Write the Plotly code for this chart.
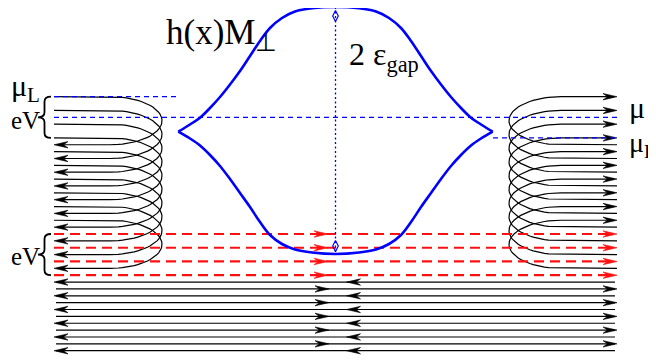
import numpy as np
import plotly.graph_objects as go

# ---------------- data ----------------
# energy levels: index k, levels drawn top->bottom
LEVEL_TOP = 96.7          # page y of level 0
LEVEL_STEP = 6.865        # spacing between neighbouring levels
left_curl_starts = [0, 2, 4, 6, 8, 10, 12, 14, 16, 18]     # right-movers reflected on the left
right_curl_starts = [7, 9, 11, 13, 15, 17, 19, 21, 23, 25]  # left-movers reflected on the right
CURL_SHIFT = 7
red_levels = [20, 22, 24, 26]                  # transmitted (dashed red) right-movers
lead_left_movers = [27, 29, 31, 33, 35, 37]
lead_right_movers = [28, 30, 32, 34, 36]
mu_L_level, mu_level, mu_R_level = 0, 3, 6
eV_low_levels = (20, 26)

# h(x)M_perp profile (upper branch, left half + apex), page coords
gap_x = [178.3, 190, 200, 210, 220, 230, 240, 250, 260, 270, 282, 295, 312, 335.8]
gap_up_y = [131.7, 124.5, 117.7, 108, 97, 84.5, 71, 56, 41, 28, 18, 11.5, 8.3, 7]
gap_lo_y = [131.7, 138.5, 145.5, 155, 166, 179, 193, 207, 222, 235, 244, 249.5, 252.5, 254]

# ---------------- drawing geometry ----------------
OFF = 8                   # browser body margin
X_L, X_R = 54, 617
XC = 335.5
CURL_XC, CURL_RX = 110, 52
AL, AW, AN = 14, 3.2, 4.5


def ly(k):
    return LEVEL_TOP + k * LEVEL_STEP


def mirror(x):
    return 2 * XC - x


fig = go.Figure()

# black solid lines
bx, by = [], []
t = np.linspace(np.pi / 2, -np.pi / 2, 40)
for k in left_curl_starts:
    y0, y1 = ly(k), ly(k + CURL_SHIFT)
    ym, ry = (y0 + y1) / 2, (y1 - y0) / 2
    xs = [X_L] + list(CURL_XC + CURL_RX * np.cos(t)) + [X_L + 3]
    ys = [y0] + list(ym - ry * np.sin(t)) + [y1]
    bx += xs + [None]
    by += ys + [None]
for k in right_curl_starts:
    y0, y1 = ly(k), ly(k - CURL_SHIFT)
    ym, ry = (y0 + y1) / 2, (y0 - y1) / 2
    xs = [X_R] + list(mirror(CURL_XC) - CURL_RX * np.cos(t)) + [X_R - 3]
    ys = [y0] + list(ym + ry * np.sin(t)) + [y1]
    bx += xs + [None]
    by += ys + [None]
for k in lead_left_movers + lead_right_movers:
    bx += [X_L + 2, X_R - 2, None]
    by += [ly(k), ly(k), None]
fig.add_trace(go.Scatter(x=bx, y=by, mode="lines",
                         line=dict(color="black", width=1.2), hoverinfo="skip"))

# red dashed lines
rx_, ry_ = [], []
for k in red_levels:
    rx_ += [X_L, X_R - 4, None]
    ry_ += [ly(k), ly(k), None]
fig.add_trace(go.Scatter(x=rx_, y=ry_, mode="lines",
                         line=dict(color="#ff1010", width=2.2, dash="10px,6px"),
                         hoverinfo="skip"))


def head(tx, y, d):
    return ([tx, tx - d * AL, tx - d * (AL - AN), tx - d * AL, tx, None],
            [y, y - AW, y, y + AW, y, None])


hx, hy = [], []
for k in left_curl_starts:
    a, b = head(X_L, ly(k + CURL_SHIFT), -1); hx += a; hy += b
for k in right_curl_starts:
    a, b = head(X_R, ly(k - CURL_SHIFT), 1); hx += a; hy += b
for k in lead_left_movers:
    for tx in (X_L, 346.5):
        a, b = head(tx, ly(k), -1); hx += a; hy += b
for k in lead_right_movers:
    for tx in (329, X_R):
        a, b = head(tx, ly(k), 1); hx += a; hy += b
fig.add_trace(go.Scatter(x=hx, y=hy, mode="lines", fill="toself", fillcolor="black",
                         line=dict(color="black", width=0.6), hoverinfo="skip"))

rhx, rhy = [], []
for k in red_levels:
    for tx in (328, X_R):
        a, b = head(tx, ly(k), 1); rhx += a; rhy += b
fig.add_trace(go.Scatter(x=rhx, y=rhy, mode="lines", fill="toself", fillcolor="#ff1010",
                         line=dict(color="#ff1010", width=0.6), hoverinfo="skip"))

# blue dashed chemical-potential lines
blue = "#0000ff"
fig.add_trace(go.Scatter(x=[X_L, 178, None, X_L, X_R, None, 493, X_R],
                         y=[ly(mu_L_level)] * 2 + [None] + [ly(mu_level)] * 2 + [None] + [ly(mu_R_level)] * 2,
                         mode="lines", line=dict(color=blue, width=1.2, dash="5px,4px"),
                         hoverinfo="skip"))

# gap profile
full_x = gap_x + [mirror(x) for x in gap_x[-2::-1]]
up_y = gap_up_y + gap_up_y[-2::-1]
lo_y = gap_lo_y + gap_lo_y[-2::-1]
for yy in (up_y, lo_y):
    fig.add_trace(go.Scatter(x=full_x, y=yy, mode="lines", line_shape="spline",
                             line=dict(color=blue, width=2.6), hoverinfo="skip"))

# vertical 2*eps_gap marker
fig.add_trace(go.Scatter(x=[XC, XC], y=[min(gap_up_y), max(gap_lo_y)], mode="lines",
                         line=dict(color=blue, width=1.3, dash="2px,2.5px"), hoverinfo="skip"))
fig.add_trace(go.Scatter(x=[XC, XC], y=[min(gap_up_y) + 9, max(gap_lo_y) - 8], mode="markers",
                         marker=dict(symbol="diamond-tall-open", size=8, color=blue,
                                     line=dict(width=1.2, color=blue)), hoverinfo="skip"))


# braces
def brace(y0, y1, x_end=51, x_tip=38):
    xm = (x_end + x_tip) / 2
    ym = (y0 + y1) / 2
    return (f"M{x_end},{y0} Q{xm},{y0} {xm},{y0 + 5} L{xm},{ym - 5} Q{xm},{ym} {x_tip},{ym} "
            f"Q{xm},{ym} {xm},{ym + 5} L{xm},{y1 - 5} Q{xm},{y1} {x_end},{y1}")


shapes = [dict(type="path", path=brace(ly(mu_L_level), ly(mu_R_level)),
               line=dict(color="black", width=1.8), xref="x", yref="y"),
          dict(type="path", path=brace(ly(eV_low_levels[0]), ly(eV_low_levels[1])),
               line=dict(color="black", width=1.8), xref="x", yref="y")]

serif = "Liberation Serif, Times New Roman, Times, serif"
ann = []


def label(text, x, y, size, xanchor="left"):
    ann.append(dict(text=text, x=x, y=y, xref="x", yref="y", showarrow=False,
                    xanchor=xanchor, yanchor="middle",
                    font=dict(family=serif, size=size, color="black")))


label("h(x)M<sub>⊥</sub>", 164, 34, 35)
label("2 ε<sub>gap</sub>", 347, 56, 32)
label("μ<sub>L</sub>", 8.5, 88, 30)
label("eV", 8.5, 120, 25)
label("eV", 8.5, 256, 25)
label("μ", 627, 107, 30)
label("μ<sub>R</sub>", 627, 144, 28)

fig.update_layout(width=656, height=360, margin=dict(l=0, r=0, t=0, b=0),
                  paper_bgcolor="white", plot_bgcolor="white", showlegend=False,
                  xaxis=dict(range=[OFF, 656 + OFF], visible=False, fixedrange=True),
                  yaxis=dict(range=[360 + OFF, OFF], visible=False, fixedrange=True),
                  shapes=shapes, annotations=ann)
fig.write_html("out.html")
